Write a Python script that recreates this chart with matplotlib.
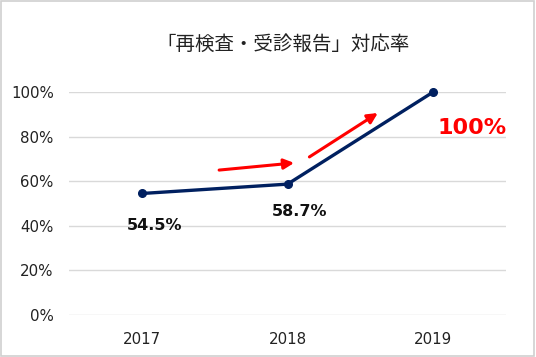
import matplotlib.pyplot as plt
from matplotlib.patches import Rectangle

plt.rcParams["font.family"] = ["DejaVu Sans", "Noto Sans CJK JP"]

TITLE = "「再検査・受診報告」対応率"
years = ["2017", "2018", "2019"]
rates = [0.545, 0.587, 1.0]
rate_labels = ["54.5%", "58.7%", "100%"]
y_ticks = [0.0, 0.2, 0.4, 0.6, 0.8, 1.0]
y_tick_labels = ["0%", "20%", "40%", "60%", "80%", "100%"]

NAVY = "#002060"
RED = "#ff0000"

fig = plt.figure(figsize=(5.36, 3.57), dpi=100)
ax = fig.add_axes([0.129, 0.1176, 0.815, 0.6246])

x = list(range(len(years)))
ax.plot(x, rates, color=NAVY, lw=2.4, marker="o", ms=5.5, zorder=3, clip_on=False)

ax.set_xlim(-0.5, len(years) - 0.5)
ax.set_ylim(0, 1.0)
ax.set_xticks(x)
ax.set_xticklabels(years)
ax.set_yticks(y_ticks)
ax.set_yticklabels(y_tick_labels)
ax.tick_params(length=0, labelsize=10.8, colors="#222222")
ax.tick_params(axis="y", pad=11)
ax.tick_params(axis="x", pad=12)
ax.grid(axis="y", color="#d9d9d9", lw=1)
ax.set_axisbelow(True)
for s in ax.spines.values():
    s.set_visible(False)

# data labels
ax.annotate(rate_labels[0], (x[0], rates[0]), xytext=(9, -23), textcoords="offset points",
            ha="center", va="center", fontsize=11.5, fontweight="bold", color="#111111")
ax.annotate(rate_labels[1], (x[1], rates[1]), xytext=(8.5, -20), textcoords="offset points",
            ha="center", va="center", fontsize=11.5, fontweight="bold", color="#111111")
ax.annotate(rate_labels[2], (x[2], rates[2]), xytext=(28, -26), textcoords="offset points",
            ha="center", va="center", fontsize=16, fontweight="bold", color=RED)

# red trend arrows
arrow = dict(arrowstyle="-|>,head_length=0.6,head_width=0.3", color=RED, lw=2.2,
             shrinkA=0, shrinkB=0)
ax.annotate("", xy=(1.045, 0.682), xytext=(0.53, 0.650), arrowprops=arrow)
ax.annotate("", xy=(1.62, 0.906), xytext=(1.15, 0.709), arrowprops=arrow)

fig.text(0.528, 0.877, TITLE, ha="center", va="center", fontsize=14,
         family=["Noto Sans CJK JP", "DejaVu Sans"], color="#222222")

fig.patches.append(Rectangle((0.002, 0.003), 0.995, 0.994, transform=fig.transFigure,
                             fill=False, edgecolor="#d0d0d0", lw=1.2))

fig.savefig("out.png", dpi=100)
